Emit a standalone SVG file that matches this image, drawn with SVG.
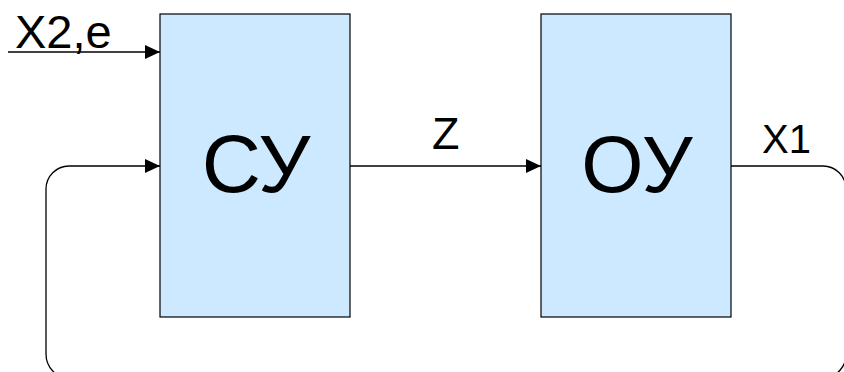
<svg xmlns="http://www.w3.org/2000/svg" width="844" height="372" viewBox="0 0 844 372">
<defs>
<style>
.box{fill:#cce9ff;stroke:#000;stroke-width:1.2}
.ln{fill:none;stroke:#000;stroke-width:1.3}
.t{font-family:"Liberation Sans",Arial,sans-serif;fill:#000}
</style>
<marker id="ah" markerWidth="16" markerHeight="14" refX="15" refY="7" orient="auto" markerUnits="userSpaceOnUse">
<path d="M0,0 L15,7 L0,14 Z" fill="#000"/>
</marker>
</defs>
<rect width="844" height="372" fill="#fff"/>
<g id="connectors">
<path class="ln" d="M8,52 H160" marker-end="url(#ah)"/>
<path class="ln" d="M350,166 H541" marker-end="url(#ah)"/>
<path class="ln" d="M731,166 H823 A23,23 0 0 1 846,189 V352 A23,24 0 0 1 823,378 H69 A23,24 0 0 1 46,354 V189 A23,23 0 0 1 69,166 H160" marker-end="url(#ah)"/>
</g>
<g id="label-x2e"><text class="t" x="15" y="48" font-size="47">X2,e</text></g>
<g id="label-z"><text class="t" x="432" y="149" font-size="45">Z</text></g>
<g id="label-x1"><text class="t" x="762" y="153" font-size="40">X1</text></g>
<g id="node-su">
<rect class="box" x="160" y="14" width="190" height="303"/>
<text class="t" x="256" y="192" font-size="82" text-anchor="middle">СУ</text>
</g>
<g id="node-ou">
<rect class="box" x="541" y="14" width="190" height="303"/>
<text class="t" x="637" y="192" font-size="80" text-anchor="middle">ОУ</text>
</g>
</svg>
